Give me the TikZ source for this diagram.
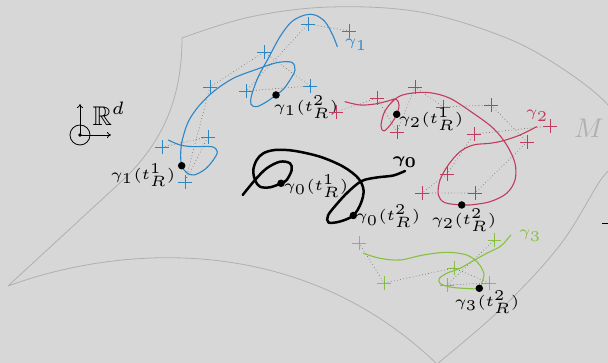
\documentclass[tikz,border=0pt]{standalone}
\usepackage{amsmath,amssymb}
\usetikzlibrary{shapes.misc,arrows.meta}
\definecolor{bg}{HTML}{D7D7D7}
\definecolor{mgray}{HTML}{B0B0B0}
\definecolor{cblue}{HTML}{2A87C8}
\definecolor{cred}{HTML}{C23B5E}
\definecolor{cgreen}{HTML}{88C040}
\definecolor{dotc}{HTML}{707070}
\begin{document}
\begin{tikzpicture}[x=1pt,y=-1pt,
  crossmk/.style={cross out, rotate=45, draw, minimum size=8.8pt, inner sep=0pt, line width=0.8pt},
  xb/.style={crossmk, draw=cblue},
  xr/.style={crossmk, draw=cred},
  xg/.style={crossmk, draw=cgreen},
  dotline/.style={dotc, line width=0.9pt, line cap=round, dash pattern=on 0pt off 3.2pt},
  ptdot/.style={circle, fill=black, inner sep=0pt, minimum size=7.5pt},
  lbl/.style={scale=3, font=\tiny, inner sep=0pt},
  smoothc/.style={line cap=round, line join=round}
]
\fill[bg] (0,0) rectangle (608,363);
\useasboundingbox (0,0) rectangle (608,363);

% manifold M
\draw[mgray, line width=0.8pt, line join=round]
  plot[smooth, tension=0.6] coordinates {(182,38) (250,17) (330,7) (420,12) (504,37) (560,67) (608,105) (624,140) (616,163) (600,181) (560,245) (502,308) (437,364)}
  .. controls (300,232) and (120,245) .. (8,286)
  -- (123,180) .. controls (165,140) and (182,95) .. (182,38);
\node[lbl, font=\small, text=mgray] (mlab) at (589,128) {$M$};

% R^d axes
\node[circle, draw, line width=0.8pt, minimum size=20pt, inner sep=0pt] (ax) at (80,135) {};
\fill (ax.center) circle (1.8pt);
\coordinate (axup) at (80,104);
\coordinate (axrt) at (111,135);
\draw[line width=0.8pt, -{To[length=4pt,width=6pt]}] (ax.center) -- (axup);
\draw[line width=0.8pt, -{To[length=4pt,width=6pt]}] (ax.center) -- (axrt);
\node[lbl, font=\small] (rd) at (109,114) {$\mathbb{R}^d$};

% ---------- gamma 1 (blue)
\node[xb] (b1) at (162,147) {};
\node[xb] (b2) at (208,137) {};
\node[xb] (b3) at (185,182) {};
\node[xb] (b4) at (210,87) {};
\node[xb] (b5) at (264,52) {};
\node[xb] (b6) at (310,86) {};
\node[xb] (b7) at (246,91) {};
\node[xb] (b8) at (308,24) {};
\node[xb] (b9) at (349,31) {};
\draw[dotline] (b1.center) -- (b2.center) -- (b3.center) -- (b4.center) -- (b5.center) -- (b6.center) -- (b7.center) -- (b8.center) -- (b9.center);
\draw[cblue, line width=1.1pt, smoothc] plot[smooth, tension=0.55] coordinates {
 (168.3,140) (180,145) (193.3,146.7) (211.7,146.7) (217.3,151.7) (213.3,160) (205,169.3) (194,175) (186.7,172.7) (181.7,165.7)
 (180.7,153.3) (182.3,140) (188.3,121.7) (198.3,106.7) (213.3,91.7) (233.3,78.3) (256.7,69.3) (276.7,62.7) (291.7,62.3) (295,70) (290,80) (283.3,89.3) (276,95)
 (266.7,101.7) (256.7,106.7) (251,104.3) (251.7,95) (258.3,76.7) (268.3,58.3) (280,36.7) (291.7,21.7) (305,15) (315,15) (325,21.7) (332.7,35) (337.3,46.7)};
\node[ptdot] (d11) at (181.7,165.7) {};
\node[ptdot] (d12) at (276,95) {};
\node[lbl] (l11) at (143,175) {$\gamma_1(t_R^1)$};
\node[lbl] (l12) at (306,107) {$\gamma_1(t_R^2)$};
\node[lbl, text=cblue] (g1name) at (356,45) {$\gamma_1$};

% ---------- gamma 2 (crimson)
\node[xr] (r1) at (336,112) {};
\node[xr] (r2) at (377,98) {};
\node[xr] (r3) at (397,132) {};
\node[xr] (r4) at (415,87) {};
\node[xr] (r5) at (443,107) {};
\node[xr] (r6) at (491,105) {};
\node[xr] (r7) at (527,142) {};
\node[xr] (r8) at (475,193) {};
\node[xr] (r9) at (422,193) {};
\node[xr] (r10) at (447,174) {};
\node[xr] (r11) at (474,134) {};
\node[xr] (r12) at (550,126) {};
\draw[dotline] (r1.center) -- (r2.center) -- (r3.center) -- (r4.center) -- (r5.center) -- (r6.center) -- (r7.center) -- (r8.center) -- (r9.center) -- (r10.center) -- (r11.center) -- (r12.center);
\draw[cred, line width=1.1pt, smoothc] plot[smooth, tension=0.55] coordinates {
 (345,101.7) (360,105) (375,104) (388,101) (396,99) (399,105) (396.7,114.3) (391,124) (384,131) (381,126) (384,113) (391,103) (400,96)
 (413,93) (430,92.7) (450,98.3) (473.3,113.3) (493.3,128.3) (506.7,145) (515,163.3) (515,180) (506.7,193.3) (490,201.7) (470,205) (461.7,205)
 (445,202.7) (438.3,195) (440,180) (448.3,165) (460,151.7) (473.3,145) (490,143.3) (503.3,140.7) (520,135) (536.7,126.7)};
\node[ptdot] (d21) at (396.7,114.3) {};
\node[ptdot] (d22) at (461.7,205) {};
\node[lbl] (l21) at (431,119) {$\gamma_2(t_R^1)$};
\node[lbl] (l22) at (464,220) {$\gamma_2(t_R^2)$};
\node[lbl, text=cred] (g2name) at (537,116) {$\gamma_2$};

% ---------- gamma 3 (green)
\node[xg] (q1) at (359,243) {};
\node[xg] (q2) at (384,283) {};
\node[xg] (q3) at (454,268) {};
\node[xg] (q4) at (489,283) {};
\node[xg] (q5) at (447,285) {};
\node[xg] (q6) at (494.5,240) {};
\draw[dotline] (q1.center) -- (q2.center) -- (q3.center) -- (q4.center) -- (q5.center) -- (q6.center);
\draw[cgreen, line width=1.1pt, smoothc] plot[smooth, tension=0.55] coordinates {
 (363.3,253.3) (380,258.3) (400,260) (423.3,255) (446.7,252.3) (466.7,255) (478.3,263.3) (484,274) (482,282) (479.3,288.3)
 (466.7,288.5) (450,287) (440,283.3) (439.5,278.3) (446.7,273.3) (460,268.3) (471.7,261.7) (486.7,253.3) (500,246.7) (506.7,240) (510.7,235)};
\node[ptdot] (d32) at (479.3,288.3) {};
\node[lbl] (l32) at (487,302) {$\gamma_3(t_R^2)$};
\node[lbl, text=cgreen] (g3name) at (530,236) {$\gamma_3$};

% ---------- gamma 0 (black)
\draw[black, line width=2.5pt, smoothc] plot[smooth, tension=0.55] coordinates {
 (242.7,195) (255,180) (266.7,168.3) (280,161.7) (290,163.3) (291.7,170) (286.7,180) (281,183.3) (270,187.3) (260,186.7) (255,180)
 (253.3,170) (256.7,160) (263.3,153.3) (275,150) (293.3,150.7) (320,156.7) (343.3,166.7) (358.3,178.3) (363.5,190) (361,203) (353.3,215.5)
 (340,221.5) (328.5,222.5) (328,215.5) (336,205) (348,192) (361.7,181) (376.7,177.5) (393.3,175.5) (405,171)};
\node[ptdot] (d01) at (281,183.3) {};
\node[ptdot] (d02) at (353.3,215.5) {};
\node[lbl] (l01) at (316,186) {$\gamma_0(t_R^1)$};
\node[lbl] (l02) at (388,216.5) {$\gamma_0(t_R^2)$};
\node[lbl] (g0name) at (405,162) {$\boldsymbol{\gamma_0}$};

% cropped mark at right edge
\coordinate (dashA) at (602,224);
\coordinate (dashB) at (609,224);
\draw[line width=1pt] (dashA) -- (dashB);
\end{tikzpicture}
\end{document}
